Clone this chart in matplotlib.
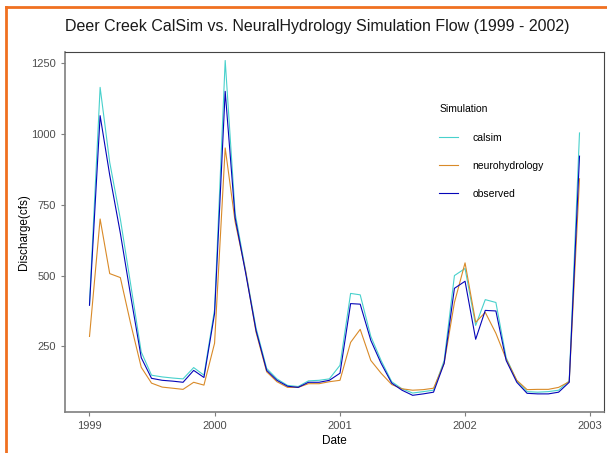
import numpy as np
import pandas as pd
import matplotlib
matplotlib.use("Agg")
import matplotlib.pyplot as plt
import matplotlib.dates as mdates
from matplotlib.lines import Line2D

plt.rcParams['font.family'] = ['Liberation Sans', 'DejaVu Sans']

# monthly flows, Jan 1999 - Dec 2002
fechas = pd.date_range("1999-01-01", "2002-12-01", freq="MS")

calsim = [400, 1165, 900, 700, 470, 230, 148, 142, 138, 135, 175, 148,
          380, 1260, 720, 515, 315, 172, 135, 112, 108, 128, 130, 135,
          183, 437, 432, 285, 200, 125, 100, 85, 90, 95, 200, 500,
          525, 324, 415, 405, 210, 128, 90, 88, 90, 95, 128, 1004]

neuro = [285, 700, 507, 493, 331, 176, 120, 106, 102, 98, 123, 113,
         261, 951, 690, 513, 300, 160, 125, 105, 105, 118, 118, 125,
         130, 264, 310, 200, 155, 115, 100, 95, 97, 102, 190, 405,
         545, 335, 370, 296, 205, 130, 97, 98, 98, 105, 125, 842]

observed = [395, 1065, 855, 650, 430, 210, 137, 130, 127, 123, 165, 140,
            366, 1151, 704, 507, 306, 165, 130, 109, 105, 123, 123, 130,
            155, 401, 399, 271, 190, 120, 95, 77, 82, 88, 190, 455,
            480, 275, 377, 375, 200, 123, 84, 82, 82, 88, 123, 922]

series = ["calsim", "neurohydrology", "observed"]
colores = ["mediumturquoise", "#d98a28", "#0505b8"]
valores = [calsim, neuro, observed]

W, H = 607, 453
fig = plt.figure(figsize=(W / 100, H / 100), dpi=100)
ax = fig.add_axes([65 / W, 1 - 412 / H, (604 - 65) / W, (412 - 52) / H])

for nombre, col, v in zip(series, colores, valores):
    ax.plot(fechas, v, color=col, lw=0.8, label=nombre)

# ggplot-like expansion on x
rango = fechas[-1] - fechas[0]
ax.set_xlim(fechas[0] - rango * 0.05, fechas[-1] + rango * 0.05)
ax.set_ylim(18, 1290)

anios = pd.to_datetime(["1999-01-01", "2000-01-01", "2001-01-01", "2002-01-01", "2003-01-01"])
ax.set_xticks(anios)
ax.xaxis.set_major_formatter(mdates.DateFormatter("%Y"))
ax.set_yticks([250, 500, 750, 1000, 1250])

for lado in ["left", "bottom"]:
    ax.spines[lado].set_color("#7f7f7f")
    ax.spines[lado].set_linewidth(1.2)
for lado in ["top", "right"]:
    ax.spines[lado].set_color("#444444")
    ax.spines[lado].set_linewidth(0.8)

ax.tick_params(axis="both", colors="#7f7f7f", labelcolor="#4d4d4d",
               labelsize=8, length=3, width=0.8)
ax.set_xlabel("Date", fontsize=8.5, labelpad=3)
ax.set_ylabel("Discharge(cfs)", fontsize=8.5, labelpad=1)

fig.text(65 / W, 1 - 26 / H, "Deer Creek CalSim vs. NeuralHydrology Simulation Flow (1999 - 2002)",
         fontsize=11.5, ha="left", va="center", color="#1a1a1a")

handles = [Line2D([0], [0], color=c, lw=0.8) for c in colores]
leg = ax.legend(handles, series, title="Simulation", loc="upper left",
                bbox_to_anchor=(430 / W, 1 - 95 / H), bbox_transform=fig.transFigure,
                frameon=False, fontsize=7.5, title_fontsize=7.5,
                handlelength=1.8, handletextpad=1.4, labelspacing=1.75,
                alignment="left")

# orange frame of the screenshot
fig.add_artist(Line2D([6 / W, 6 / W], [0, 1 - 7 / H], color="#f07020", lw=2,
                      transform=fig.transFigure))
fig.add_artist(Line2D([6 / W, 1], [1 - 7 / H, 1 - 7 / H], color="#f07020", lw=2,
                      transform=fig.transFigure))

fig.savefig("out.png", dpi=100)
